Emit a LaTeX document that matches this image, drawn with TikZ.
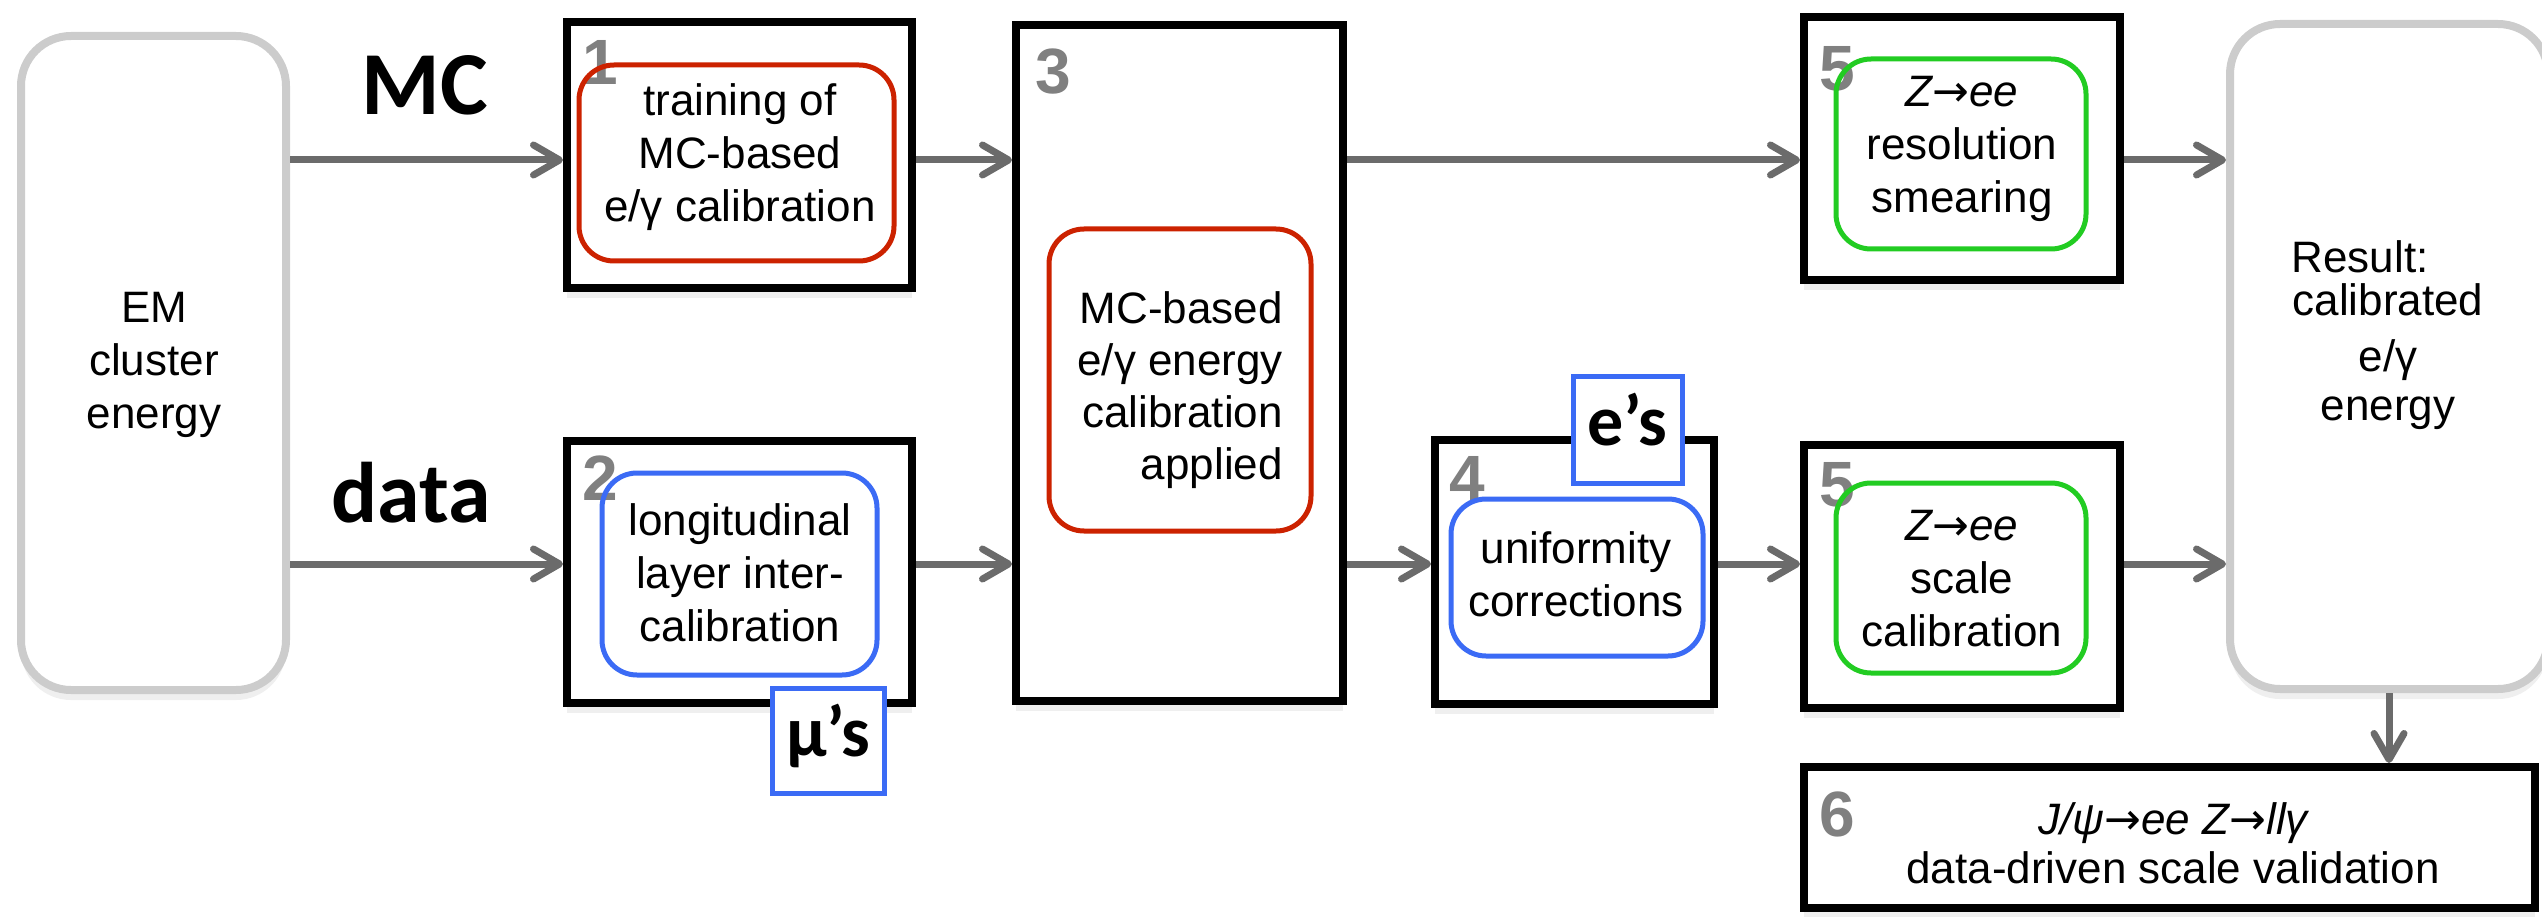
\documentclass[tikz,border=0pt]{standalone}
\usepackage{fontspec}
\setmainfont{Liberation Sans}
\newfontfamily\calib{Carlito}
\newfontfamily\dvsans{DejaVu Sans}
\newcommand{\zarrow}{{\upshape\dvsans →}}
\usetikzlibrary{arrows.meta,shadows}
\definecolor{arrgray}{HTML}{6B6B6B}
\definecolor{numgray}{HTML}{808080}
\definecolor{boxgray}{HTML}{CCCCCC}
\definecolor{myred}{HTML}{CC2200}
\definecolor{myblue}{HTML}{3B6BF5}
\definecolor{mygreen}{HTML}{22CC22}
\begin{document}
\begin{tikzpicture}[x=1pt,y=-1pt,
  shade/.style={drop shadow={opacity=0.13,shadow xshift=0pt,shadow yshift=-10pt}},
  stagebox/.style={draw=black,line width=8pt,fill=white,shade,inner sep=0pt},
  endbox/.style={draw=boxgray,line width=8pt,fill=white,rounded corners=50pt,shade,inner sep=0pt},
  inbox/.style={draw=#1,line width=5pt,rounded corners=35pt,inner sep=0pt},
  tagbox/.style={draw=myblue,line width=5pt,fill=white,inner sep=0pt,
    font=\calib\bfseries\fontsize{72}{72}\selectfont,text height=46pt,text depth=14pt},
  txt/.style={font=\fontsize{44}{53}\selectfont,align=center,inner sep=0pt},
  numlab/.style={text=numgray,font=\fontsize{64}{64}\selectfont\bfseries,anchor=base west,inner sep=0pt},
  bigword/.style={font=\calib\bfseries\fontsize{90}{90}\selectfont,anchor=base,inner sep=0pt},
  arr/.style={draw=arrgray,line width=7pt,-{Straight Barb[length=26pt,width=30pt,round]}}
]
\useasboundingbox (0,0) rectangle (2542,917);

% outer boxes
\node[endbox,minimum width=265pt,minimum height=654pt] (em) at (153.5,363) {};
\node[endbox,minimum width=318pt,minimum height=665pt] (res) at (2389,356.5) {};
\node[stagebox,minimum width=345pt,minimum height=266pt] (b1) at (739.5,155) {};
\node[stagebox,minimum width=345pt,minimum height=262pt] (b2) at (739.5,572) {};
\node[stagebox,minimum width=327pt,minimum height=676pt] (b3) at (1179.5,363) {};
\node[stagebox,minimum width=279pt,minimum height=264pt] (b4) at (1574.5,572) {};
\node[stagebox,minimum width=316pt,minimum height=263pt] (b5a) at (1962,148.5) {};
\node[stagebox,minimum width=316pt,minimum height=263pt] (b5b) at (1962,576.5) {};
\node[stagebox,minimum width=731pt,minimum height=141pt] (b6) at (2169.5,837.5) {};

% numbers
\node[numlab] (n1) at (582,85) {1};
\node[numlab] (n2) at (582,500) {2};
\node[numlab] (n3) at (1035,94) {3};
\node[numlab] (n4) at (1449,500) {4};
\node[numlab] (n5a) at (1819,91) {5};
\node[numlab] (n5b) at (1819,506) {5};
\node[numlab] (n6) at (1819,836) {6};

% inner rounded boxes
\node[inbox=myred,minimum width=315pt,minimum height=196pt] (r1) at (736.5,163) {};
\node[inbox=myblue,minimum width=275pt,minimum height=202pt] (r2) at (739.5,574) {};
\node[inbox=myred,minimum width=262pt,minimum height=302pt] (r3) at (1180,380) {};
\node[inbox=myblue,minimum width=252pt,minimum height=157pt] (r4) at (1577,577.5) {};
\node[inbox=mygreen,minimum width=250pt,minimum height=190pt] (r5a) at (1961,154) {};
\node[inbox=mygreen,minimum width=250pt,minimum height=190pt] (r5b) at (1961,578) {};

% texts
\node[txt] (tem) at (154,365) {EM\\cluster\\energy};
\node[txt] (t1) at (740,157) {training of\\MC-based\\e/γ calibration};
\node[txt] (t2) at (740,573) {longitudinal\\layer inter-\\calibration};
\node[txt,align=right,anchor=east,font=\fontsize{44}{52}\selectfont] (t3) at (1283,390) {MC-based\\e/γ energy\\calibration\\applied};
\node[txt] (t4) at (1576,574) {uniformity\\corrections};
\node[txt] (t5a) at (1962,149) {\itshape Z\zarrow ee\\resolution\\smearing};
\node[txt] (t5b) at (1962,579) {\itshape Z\zarrow ee\\scale\\calibration};
\node[txt,font=\fontsize{44}{49}\selectfont] (t6) at (2173,843) {\itshape J/ψ\zarrow ee Z\zarrow llγ\\data-driven scale validation};
\node[txt,font=\fontsize{44}{49}\selectfont] (tres) at (2388,335) {Result:\hspace*{56pt}\\[-6pt]calibrated\\[7pt]e/γ\\energy};

% big words
\node[bigword] (mc) at (425,115) {MC};
\node[bigword,font=\calib\bfseries\fontsize{86}{86}\selectfont] (data) at (411,522) {data};

% tags
\node[tagbox,minimum width=112pt,minimum height=105pt] (mu) at (828,740.5) {μ’s};
\node[tagbox,minimum width=109pt,minimum height=107pt] (es) at (1627.5,429.5) {e’s};

% connectors
\coordinate (yMC) at (0,160);
\coordinate (yData) at (0,564);
\draw[arr] (em.east |- yMC) -- (b1.west |- yMC);
\draw[arr] (em.east |- yData) -- (b2.west |- yData);
\draw[arr] (b1.east |- yMC) -- (b3.west |- yMC);
\draw[arr] (b2.east |- yData) -- (b3.west |- yData);
\draw[arr] (b3.east |- yMC) -- (b5a.west |- yMC);
\draw[arr] (b3.east |- yData) -- (b4.west |- yData);
\draw[arr] (b4.east |- yData) -- (b5b.west |- yData);
\draw[arr] (b5a.east |- yMC) -- (res.west |- yMC);
\draw[arr] (b5b.east |- yData) -- (res.west |- yData);
\draw[arr] (res.south) -- (res.south |- b6.north);
\end{tikzpicture}
\end{document}
